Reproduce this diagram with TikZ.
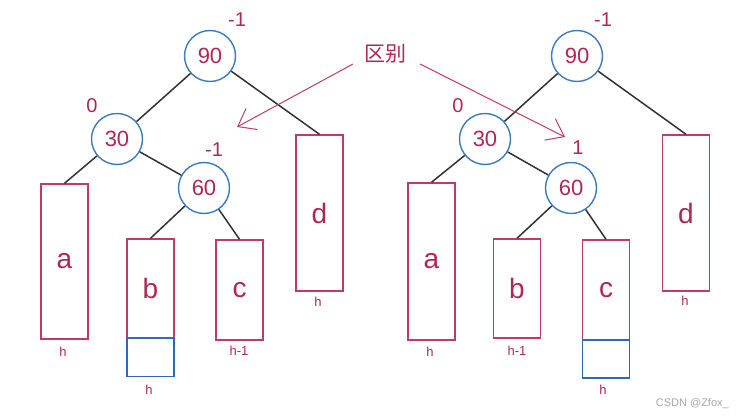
\documentclass[tikz,border=0pt]{standalone}
\usepackage{fontspec}
\setmainfont{Liberation Sans}
\newfontfamily\cjk{Noto Sans CJK SC}
\usetikzlibrary{arrows.meta}
\definecolor{txtred}{RGB}{176,38,84}
\definecolor{boxred}{RGB}{192,58,101}
\definecolor{cblue}{RGB}{58,123,192}
\definecolor{bblue}{RGB}{42,106,184}
\definecolor{edgec}{RGB}{50,50,50}
\begin{document}
\begin{tikzpicture}[x=1pt,y=-1pt,
  avl/.style={circle,draw=cblue,line width=1.4pt,minimum size=51pt,inner sep=0pt,text=txtred,font=\fontsize{22}{22}\selectfont},
  tree/.style={rectangle,draw=boxred,line width=1.4pt,inner sep=0pt,minimum width=47pt,text=txtred,font=\fontsize{28}{28}\selectfont},
  extra/.style={rectangle,draw=bblue,line width=1.3pt,inner sep=0pt,minimum width=47pt,minimum height=38pt},
  bal/.style={text=txtred,font=\fontsize{20}{20}\selectfont,inner sep=0pt},
  ht/.style={text=txtred,font=\fontsize{13}{13}\selectfont,inner sep=0pt},
  link/.style={draw=edgec,line width=1.5pt},
  diff/.style={draw=boxred,line width=1pt,-{Straight Barb[length=16pt,width=24pt,line width=1pt]}}
]
\useasboundingbox (0,0) rectangle (737,417);

% ---------- left tree ----------
\node[avl] (L90) at (210,56) {90};
\node[avl] (L30) at (117,139) {30};
\node[avl] (L60) at (204,188) {60};
\node[bal] (L90b) at (237,20) {-1};
\node[bal] (L30b) at (92,106) {0};
\node[bal] (L60b) at (214,150) {-1};
\node[tree,minimum height=155pt] (La) at (64.5,261.5) {a};
\node[tree,minimum height=99pt] (Lb) at (150.5,288.5) {b};
\node[extra] (Lbx) at (150.5,357.5) {};
\node[tree,minimum height=100pt] (Lc) at (239.5,290) {c};
\node[tree,minimum height=156pt] (Ld) at (319.5,213) {d};
\node[ht] (Lah) at (63,352) {h};
\node[ht] (Lbh) at (149,390) {h};
\node[ht] (Lch) at (239,351) {h-1};
\node[ht] (Ldh) at (318,302) {h};
\draw[link] (L90) -- (L30);
\draw[link] (L90) -- (Ld.north);
\draw[link] (L30) -- (La.north);
\draw[link] (L30) -- (L60);
\draw[link] (L60) -- (Lb.north);
\draw[link] (L60) -- (Lc.north);

% ---------- right tree ----------
\node[avl] (R90) at (577,56) {90};
\node[avl] (R30) at (485,139) {30};
\node[avl] (R60) at (571,188) {60};
\node[bal] (R90b) at (603,20) {-1};
\node[bal] (R30b) at (458,106) {0};
\node[bal] (R60b) at (578,148) {1};
\node[tree,minimum height=157pt] (Ra) at (431.5,261.5) {a};
\node[tree,minimum height=99pt] (Rb) at (517,288.5) {b};
\node[tree,minimum height=100pt] (Rc) at (606,290) {c};
\node[extra] (Rcx) at (606,359) {};
\node[tree,minimum height=156pt] (Rd) at (686,213) {d};
\node[ht] (Rah) at (430,352) {h};
\node[ht] (Rbh) at (517,351) {h-1};
\node[ht] (Rch) at (603,390) {h};
\node[ht] (Rdh) at (685,301) {h};
\draw[link] (R90) -- (R30);
\draw[link] (R90) -- (Rd.north);
\draw[link] (R30) -- (Ra.north);
\draw[link] (R30) -- (R60);
\draw[link] (R60) -- (Rb.north);
\draw[link] (R60) -- (Rc.north);

% ---------- difference label ----------
\node[text=txtred,font=\cjk\fontsize{21}{21}\selectfont,inner sep=0pt] (qb) at (385,54) {区别};
\coordinate (tipL) at (237,127);
\coordinate (tipR) at (565,137);
\draw[diff] (353,64) -- (tipL);
\draw[diff] (420,64) -- (tipR);

\node[text=black!35,font=\fontsize{11}{11}\selectfont,inner sep=0pt,anchor=east] (wm) at (729,404) {CSDN @Zfox\_};
\end{tikzpicture}
\end{document}
